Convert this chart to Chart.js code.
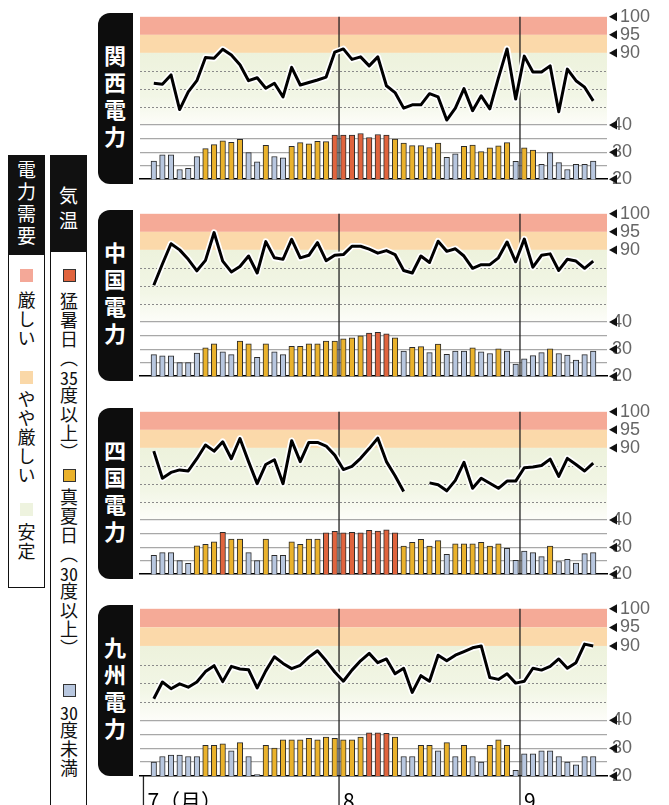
<!DOCTYPE html>
<html lang="ja">
<head>
<meta charset="utf-8">
<script src="https://cdn.jsdelivr.net/npm/chart.js@4.4.1/dist/chart.umd.min.js"></script>
<style>
  html, body { margin: 0; padding: 0; background: #fff; }
  body { width: 669px; height: 805px; position: relative; overflow: hidden; font-family: "Noto Sans CJK JP", sans-serif; }
  .box { position: absolute; border: 1.5px solid #111; box-sizing: border-box; }
  .head { position: absolute; left: 0; top: 0; right: 0; background: #111; }
  .v { position: absolute; writing-mode: vertical-rl; white-space: nowrap; font-size: 18px; line-height: 18px; width: 18px; color: #111; letter-spacing: 1px; }
  .v.white { color: #fff; font-size: 19px; line-height: 19px; width: 19px; letter-spacing: 3px; }
  .tcy { text-combine-upright: all; }
  .sw { position: absolute; width: 13px; height: 13px; box-sizing: border-box; }
  .tab { position: absolute; left: 98px; width: 35px; height: 171px; background: #0d0d0d; border-radius: 12px 0 0 12px; }
  .tab span { position: absolute; left: 6px; top: 50%; transform: translateY(-50%); writing-mode: vertical-rl; white-space: nowrap; color: #fff; font-size: 22px; line-height: 22px; width: 22px; font-weight: bold; letter-spacing: 5px; }
  canvas { position: absolute; left: 135px; }
</style>
</head>
<body>

<!-- 電力需要 legend -->
<div class="box" style="left:8px;top:155px;width:37px;height:433px;">
  <div class="head" style="height:99px;"></div>
</div>
<div class="v white" style="left:17px;top:160px;">電力需要</div>
<div class="sw" style="left:20px;top:269px;background:#f4a898;"></div>
<div class="v" style="left:17.5px;top:291px;">厳しい</div>
<div class="sw" style="left:20px;top:371px;background:#fad8a8;"></div>
<div class="v" style="left:17.5px;top:390px;">やや厳しい</div>
<div class="sw" style="left:20px;top:503px;background:#eef3df;"></div>
<div class="v" style="left:17.5px;top:523px;">安定</div>

<!-- 気温 legend -->
<div class="box" style="left:50px;top:155px;width:37px;height:700px;">
  <div class="head" style="height:96px;"></div>
</div>
<div class="v white" style="left:59px;top:186px;letter-spacing:6px;">気温</div>
<div class="sw" style="left:62.5px;top:269px;background:#e0643e;border:1px solid #333;"></div>
<div class="v" style="left:60px;top:292px;">猛暑日（<span class="tcy">35</span>度以上）</div>
<div class="sw" style="left:62.5px;top:469px;background:#eab22c;border:1px solid #333;"></div>
<div class="v" style="left:60px;top:488px;">真夏日（<span class="tcy">30</span>度以上）</div>
<div class="sw" style="left:62.5px;top:684px;background:#b8c7df;border:1px solid #333;"></div>
<div class="v" style="left:60px;top:703px;"><span class="tcy">30</span>度未満</div>

<!-- company tabs -->
<div class="tab" style="top:13px;"><span>関西電力</span></div>
<div class="tab" style="top:210px;"><span>中国電力</span></div>
<div class="tab" style="top:408px;"><span>四国電力</span></div>
<div class="tab" style="top:605px;"><span>九州電力</span></div>

<canvas id="kansai" width="534" height="194" style="top:1px;"></canvas>
<canvas id="chugoku" width="534" height="194" style="top:198px;"></canvas>
<canvas id="shikoku" width="534" height="194" style="top:396px;"></canvas>
<canvas id="kyushu" width="534" height="212" style="top:593px;"></canvas>

<script>
// business days, 7/1 - 9/12
const days = ['7/1','7/2','7/3','7/4','7/5','7/8','7/9','7/10','7/11','7/12','7/16','7/17','7/18','7/19','7/22','7/23','7/24','7/25','7/26','7/29','7/30','7/31',
  '8/1','8/2','8/5','8/6','8/7','8/8','8/9','8/13','8/14','8/15','8/16','8/19','8/20','8/21','8/22','8/23','8/26','8/27','8/28','8/29','8/30',
  '9/2','9/3','9/4','9/5','9/6','9/9','9/10','9/11','9/12'];
const monthLabels = ['7（月）', '8', '9'];
const demandTicks = [90, 95, 100];
const tempTicks = [20, 30, 40];

// 電力使用率 (%)
const kansaiDemand = [81.6, 81.3, 83.9, 74.3, 79.2, 82.3, 88.7, 88.5, 91.0, 89.4, 86.7, 82.3, 83.1, 80.2, 81.6, 77.8, 86.0, 81.1, 81.8, 82.5, 83.3, 90.2,
  91.1, 88.2, 88.9, 86.4, 88.9, 80.9, 79.0, 74.7, 75.6, 75.6, 78.7, 77.8, 71.4, 74.7, 80.1, 74.0, 78.1, 74.5, 83.1, 91.1, 77.2,
  89.1, 84.7, 84.7, 86.4, 73.7, 85.5, 82.3, 80.5, 76.7];
const chugokuDemand = [80.2, 86.1, 91.7, 90.0, 87.4, 84.2, 87.1, 94.8, 86.9, 83.9, 85.4, 88.3, 83.6, 92.3, 87.8, 87.4, 92.9, 87.8, 88.5, 92.0, 87.0, 88.5,
  88.7, 91.0, 91.0, 90.2, 89.1, 89.8, 88.7, 84.3, 83.6, 88.3, 86.5, 92.4, 89.6, 90.3, 88.3, 84.9, 85.9, 85.9, 87.8, 92.2, 86.7,
  93.0, 85.2, 88.5, 88.9, 84.3, 87.4, 86.9, 84.9, 86.9];
const shikokuDemand = [89.1, 81.6, 83.2, 83.9, 83.6, 87.0, 90.8, 89.1, 91.7, 87.0, 92.6, 86.2, 80.1, 85.4, 86.7, 80.1, 92.0, 86.2, 91.5, 91.5, 90.5, 88.0,
  84.0, 84.9, 87.1, 89.8, 92.7, 86.2, 82.3, 77.9, null, null, 80.3, 79.8, 78.1, 81.0, 86.0, 78.8, 81.6, 80.2, 78.8, 80.8, 80.8,
  84.5, 84.7, 85.1, 86.9, 82.1, 87.1, 85.4, 83.6, 85.8];
const kyushuDemand = [75.8, 80.3, 78.5, 79.8, 78.9, 80.3, 83.1, 84.7, 80.4, 84.5, 83.8, 83.6, 78.7, 83.3, 87.1, 85.3, 83.9, 84.8, 87.0, 88.7, 86.0, 83.0,
  80.5, 83.5, 86.0, 88.0, 85.5, 86.5, 82.5, 84.0, 77.5, 82.0, 80.5, 87.5, 86.0, 87.5, 88.5, 89.5, 90.0, 81.5, 81.0, 82.5, 80.0,
  80.5, 84.0, 83.5, 84.5, 86.5, 84.0, 85.5, 90.5, 90.0];

// 最高気温 (度)
const kansaiTemp = [26.7, 29.0, 29.0, 23.6, 24.0, 28.4, 31.3, 32.8, 34.2, 33.6, 34.7, 29.8, 26.4, 32.5, 28.4, 27.9, 32.1, 33.5, 33.1, 34.0, 33.9, 36.3,
  36.3, 36.3, 36.9, 35.4, 36.5, 36.3, 34.8, 33.3, 32.4, 32.4, 31.7, 33.3, 28.1, 29.4, 32.1, 32.6, 30.2, 31.6, 32.3, 33.5, 26.6,
  31.6, 30.8, 25.5, 29.8, 26.1, 23.6, 25.5, 25.5, 26.7];
const chugokuTemp = [28.0, 27.5, 27.5, 25.0, 25.0, 28.5, 30.5, 32.0, 29.0, 28.0, 33.0, 32.0, 27.0, 32.0, 29.0, 28.0, 31.0, 31.0, 32.0, 32.0, 33.0, 33.0,
  33.8, 34.2, 34.9, 35.9, 36.2, 35.7, 34.2, 29.3, 30.7, 30.9, 28.7, 31.9, 28.1, 29.3, 29.3, 30.5, 29.0, 28.4, 30.1, 29.3, 24.5,
  26.4, 27.6, 28.7, 30.1, 28.4, 27.8, 26.0, 28.0, 29.3];
const shikokuTemp = [27.0, 28.0, 28.0, 25.0, 24.0, 30.5, 31.0, 32.0, 35.5, 33.0, 33.0, 28.0, 25.0, 33.0, 27.0, 27.0, 32.0, 31.0, 33.0, 33.0, 35.3, 35.8,
  35.3, 35.5, 35.3, 36.2, 35.9, 36.4, 35.3, 30.4, 31.8, 32.9, 30.4, 32.4, 27.3, 31.2, 31.2, 31.2, 31.8, 30.4, 31.2, 29.6, 25.1,
  28.5, 28.0, 26.5, 30.4, 24.7, 25.5, 24.1, 27.6, 28.0];
const kyushuTemp = [25.0, 27.0, 27.5, 27.5, 27.0, 27.0, 31.0, 31.0, 31.5, 29.0, 32.0, 27.0, 20.5, 31.0, 30.0, 33.0, 33.0, 33.0, 33.5, 33.0, 34.0, 33.5,
  33.0, 33.0, 34.0, 35.5, 35.5, 35.3, 34.0, 27.0, 27.0, 31.0, 31.0, 29.0, 32.0, 27.0, 31.0, 27.0, 25.0, 31.0, 33.0, 31.0, 22.0,
  28.0, 28.0, 29.0, 29.0, 27.0, 25.0, 24.0, 27.0, 27.0];

const X_MIN = -1.6, X_MAX = 52.6;

function tempColor(t) {
  if (t >= 35) return '#e0643e';
  if (t >= 30) return '#eab22c';
  return '#b8c7df';
}

function monthTicks() {
  const ticks = [];
  days.forEach((d, i) => {
    if (i === 0) ticks.push({ value: X_MIN + 0.4 });
    else if (d.split('/')[0] !== days[i - 1].split('/')[0]) ticks.push({ value: i - 0.5 });
  });
  return ticks;
}

// bands, dotted lines, month lines, arrow marks
const decor = {
  id: 'decor',
  beforeDraw(chart) {
    const { ctx, chartArea: a, scales } = chart;
    const yL = scales.yL;
    const y100 = yL.getPixelForValue(100), y95 = yL.getPixelForValue(95), y90 = yL.getPixelForValue(90), y70 = yL.getPixelForValue(70);
    ctx.save();
    ctx.fillStyle = '#f5aa97';
    ctx.fillRect(a.left, y100, a.width, y95 - y100);
    ctx.fillStyle = '#fbd9aa';
    ctx.fillRect(a.left, y95, a.width, y90 - y95);
    const g = ctx.createLinearGradient(0, y90, 0, y70);
    g.addColorStop(0, '#edf2dc');
    g.addColorStop(0.6, '#f2f6e6');
    g.addColorStop(1, '#fdfdf9');
    ctx.fillStyle = g;
    ctx.fillRect(a.left, y90, a.width, y70 - y90);
    ctx.strokeStyle = '#8a8a8a';
    ctx.lineWidth = 1;
    ctx.setLineDash([2, 2]);
    [85, 80, 75].forEach(v => {
      const y = Math.round(yL.getPixelForValue(v)) + 0.5;
      ctx.beginPath(); ctx.moveTo(a.left, y); ctx.lineTo(a.right, y); ctx.stroke();
    });
    ctx.restore();
  },
  beforeDatasetsDraw(chart, args, opts) {
    const { ctx, chartArea: a, scales } = chart;
    ctx.save();
    ctx.strokeStyle = '#222';
    ctx.lineWidth = 1.3;
    scales.x.ticks.forEach((t, i) => {
      const x = scales.x.getPixelForValue(t.value);
      const top = i === 0 ? a.bottom : a.top;
      const bottom = opts.extend ? chart.height : a.bottom;
      if (bottom <= top) return;
      ctx.beginPath(); ctx.moveTo(x, top); ctx.lineTo(x, bottom); ctx.stroke();
    });
    ctx.restore();
  },
  afterDraw(chart) {
    const { ctx, chartArea: a, scales } = chart;
    ctx.save();
    ctx.fillStyle = '#111';
    const marks = demandTicks.map(v => scales.yL.getPixelForValue(v))
      .concat(tempTicks.map(v => scales.yB.getPixelForValue(v)));
    marks.forEach(y => {
      ctx.beginPath();
      ctx.moveTo(a.right + 2, y);
      ctx.lineTo(a.right + 10, y - 4.5);
      ctx.lineTo(a.right + 10, y + 4.5);
      ctx.closePath();
      ctx.fill();
    });
    ctx.restore();
  }
};

function makeChart(id, demand, temp, showMonths) {
  const linePts = demand.map((v, i) => ({ x: i, y: v }));
  new Chart(document.getElementById(id), {
    data: {
      datasets: [
        { type: 'line', data: linePts, yAxisID: 'yL', borderColor: '#000', borderWidth: 3, pointRadius: 0, tension: 0, spanGaps: false, order: 0, borderJoinStyle: 'round' },
        { type: 'line', data: linePts, yAxisID: 'yL', borderColor: '#fff', borderWidth: 6.5, pointRadius: 0, tension: 0, spanGaps: false, order: 1, borderJoinStyle: 'round' },
        { type: 'bar', data: temp.map((t, i) => ({ x: i, y: t })), yAxisID: 'yB', backgroundColor: temp.map(tempColor),
          borderColor: '#2b2b2b', borderWidth: 1, barThickness: 5.5, order: 2 }
      ]
    },
    options: {
      responsive: false,
      animation: false,
      layout: { padding: { left: 5, top: 12 } },
      plugins: { legend: { display: false }, tooltip: { enabled: false }, decor: { extend: showMonths } },
      scales: {
        x: {
          type: 'linear', min: X_MIN, max: X_MAX, offset: false,
          afterBuildTicks: s => { s.ticks = monthTicks(); },
          afterFit: s => { s.height = showMonths ? 29 : 11; },
          grid: { display: false, offset: false },
          border: { display: true, color: '#000', width: 1.6 },
          ticks: {
            display: showMonths, autoSkip: false, align: 'start', labelOffset: 4, padding: 4, maxRotation: 0,
            color: '#000', font: { family: 'Noto Sans CJK JP', size: 21 },
            callback: (v, i) => monthLabels[i]
          }
        },
        yL: {
          position: 'right', stack: 'v', stackWeight: 2, min: 70, max: 100,
          afterFit: s => { s.width = 62; },
          afterBuildTicks: s => { s.ticks = demandTicks.map(v => ({ value: v })); },
          grid: { display: false },
          border: { display: false },
          ticks: { autoSkip: false, padding: 5, color: '#666', font: { family: 'Liberation Sans', size: 18 } }
        },
        yB: {
          position: 'right', stack: 'v', stackWeight: 1, min: 20, max: 40,
          afterFit: s => { s.width = 62; },
          afterBuildTicks: s => { s.ticks = [20, 25, 30, 35, 40].map(v => ({ value: v })); },
          grid: { drawTicks: false, color: c => (c.tick && c.tick.value === 20) ? 'rgba(0,0,0,0)' : '#a8a8a8', lineWidth: 1.2 },
          border: { display: false },
          ticks: { autoSkip: false, padding: 5, color: '#666', font: { family: 'Liberation Sans', size: 18 },
            callback: v => tempTicks.includes(v) ? String(v) : '' }
        }
      }
    },
    plugins: [decor]
  });
}

makeChart('kansai', kansaiDemand, kansaiTemp, false);
makeChart('chugoku', chugokuDemand, chugokuTemp, false);
makeChart('shikoku', shikokuDemand, shikokuTemp, false);
makeChart('kyushu', kyushuDemand, kyushuTemp, true);
</script>
</body>
</html>
